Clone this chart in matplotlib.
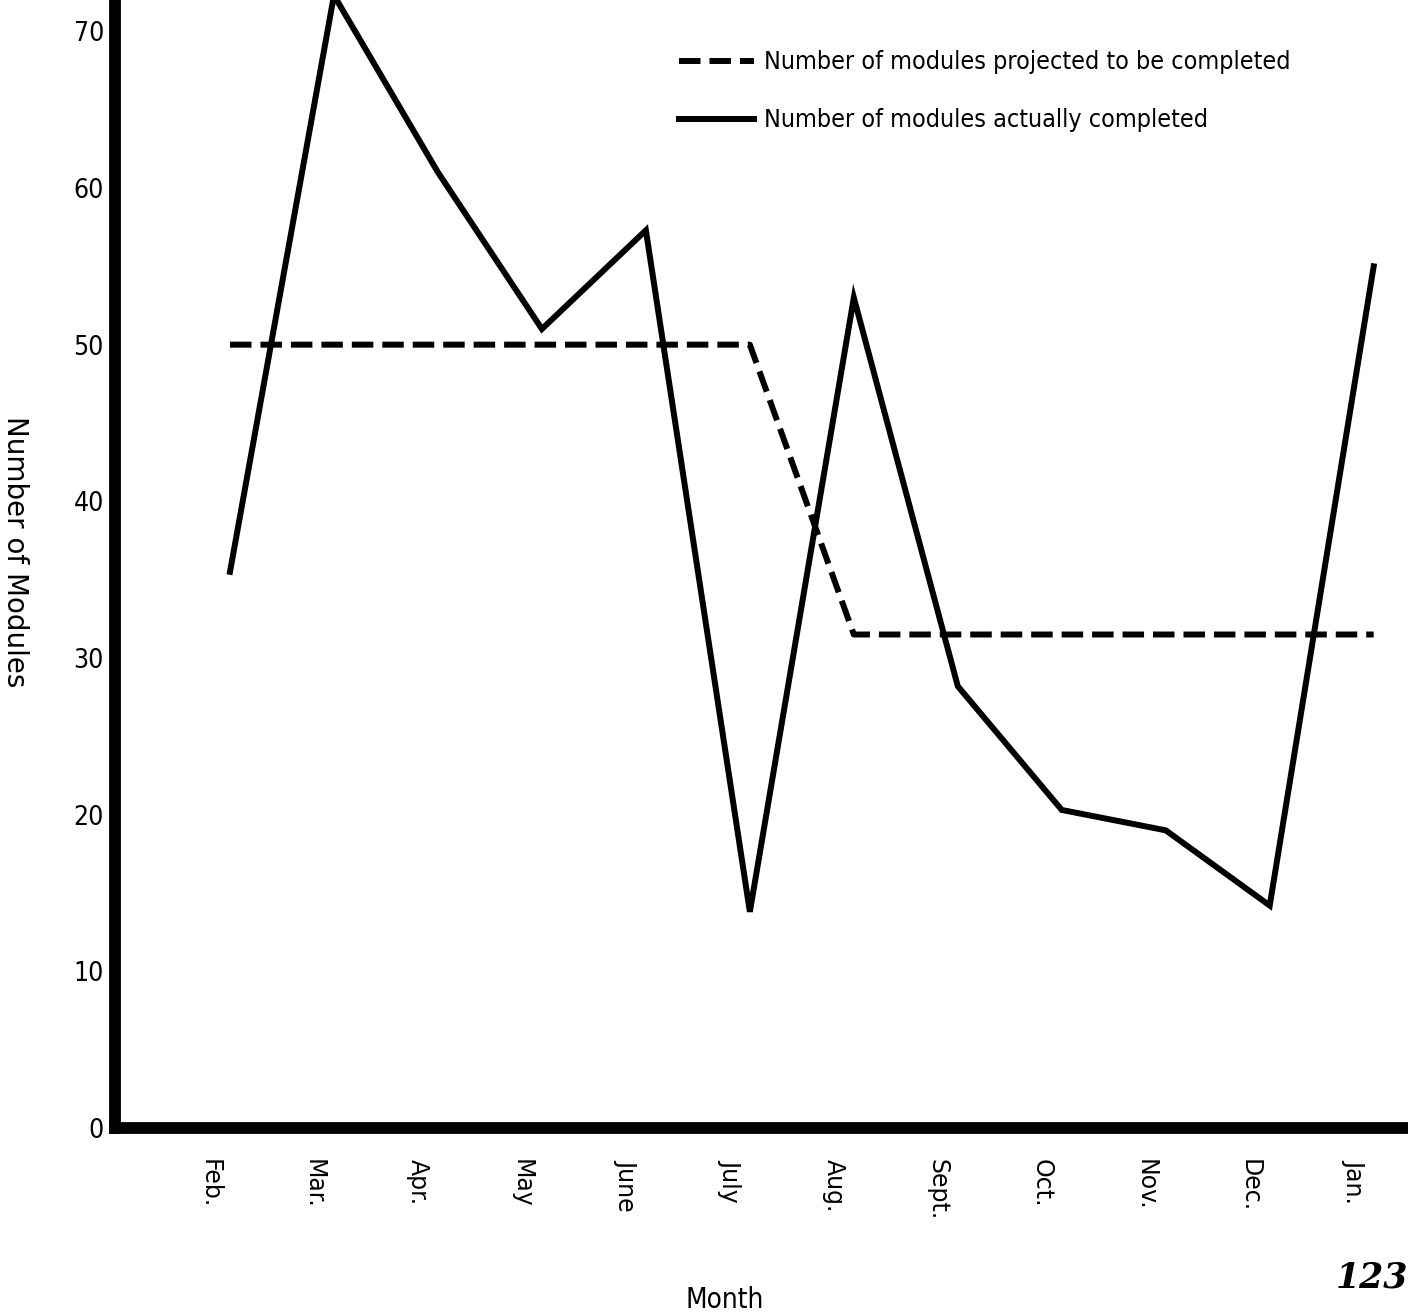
import matplotlib.pyplot as plt
from matplotlib.transforms import ScaledTranslation
from matplotlib.font_manager import FontProperties

months = ['Feb.', 'Mar.', 'Apr.', 'May', 'June', 'July', 'Aug.', 'Sept.', 'Oct.', 'Nov.', 'Dec.', 'Jan.']
projected = [50, 50, 50, 50, 50, 50, 31.5, 31.5, 31.5, 31.5, 31.5, 31.5]
actual = [35.5, 72.3, 61, 51, 57.3, 13.8, 53, 28.2, 20.3, 19, 14.2, 55]
yticks = [0, 10, 20, 30, 40, 50, 60, 70]

x = list(range(len(months)))


def narrow(size):
    return FontProperties(family='DejaVu Sans', stretch='condensed', size=size)


fig = plt.figure(figsize=(14.08, 13.16), dpi=100)
ax = fig.add_axes([115 / 1408, 188 / 1316, 1 - 115 / 1408, 1128 / 1316])

ax.plot(x, projected, color='black', lw=4.3, ls=(0, (3.6, 1.5)),
        label='Number of modules projected to be completed')
ax.plot(x, actual, color='black', lw=4.3, label='Number of modules actually completed',
        solid_joinstyle='miter')

ax.set_xlim(-1.106, 11.33)
ax.set_ylim(0, 72)
for s in ['top', 'right']:
    ax.spines[s].set_visible(False)
for s in ['left', 'bottom']:
    ax.spines[s].set_linewidth(8.5)
ax.spines['left'].set_capstyle('projecting')

ax.set_yticks(yticks)
ax.set_yticklabels([str(t) for t in yticks], fontproperties=narrow(19))
ax.tick_params(axis='y', length=0, pad=8)
ax.set_xticks(x)
ax.set_xticklabels(months, rotation=270, family='DejaVu Sans', fontsize=17, va='top', ha='center')
ax.tick_params(axis='x', length=0, pad=22)
off = ScaledTranslation(-20 / 100, 0, fig.dpi_scale_trans)
for lbl in ax.get_xticklabels():
    lbl.set_transform(lbl.get_transform() + off)

fig.text(15 / 1408, 1 - 552 / 1316, 'Number of Modules', rotation=270, fontsize=20,
         family='DejaVu Sans', ha='center', va='center')
fig.text(725 / 1408, 1 - 1300 / 1316, 'Month', fontproperties=narrow(20), ha='center', va='center')
fig.text(1336 / 1408, 1 - 1278 / 1316, '123', fontsize=25, family='DejaVu Serif',
         style='italic', weight='bold', ha='left', va='center')

leg = ax.legend(loc='upper left', bbox_to_anchor=(656 / 1408, 1 - 28 / 1316),
                bbox_transform=fig.transFigure, frameon=False, handlelength=3.0,
                handletextpad=0.4, labelspacing=1.35, prop=narrow(18))

fig.savefig('out.png', dpi=100)
